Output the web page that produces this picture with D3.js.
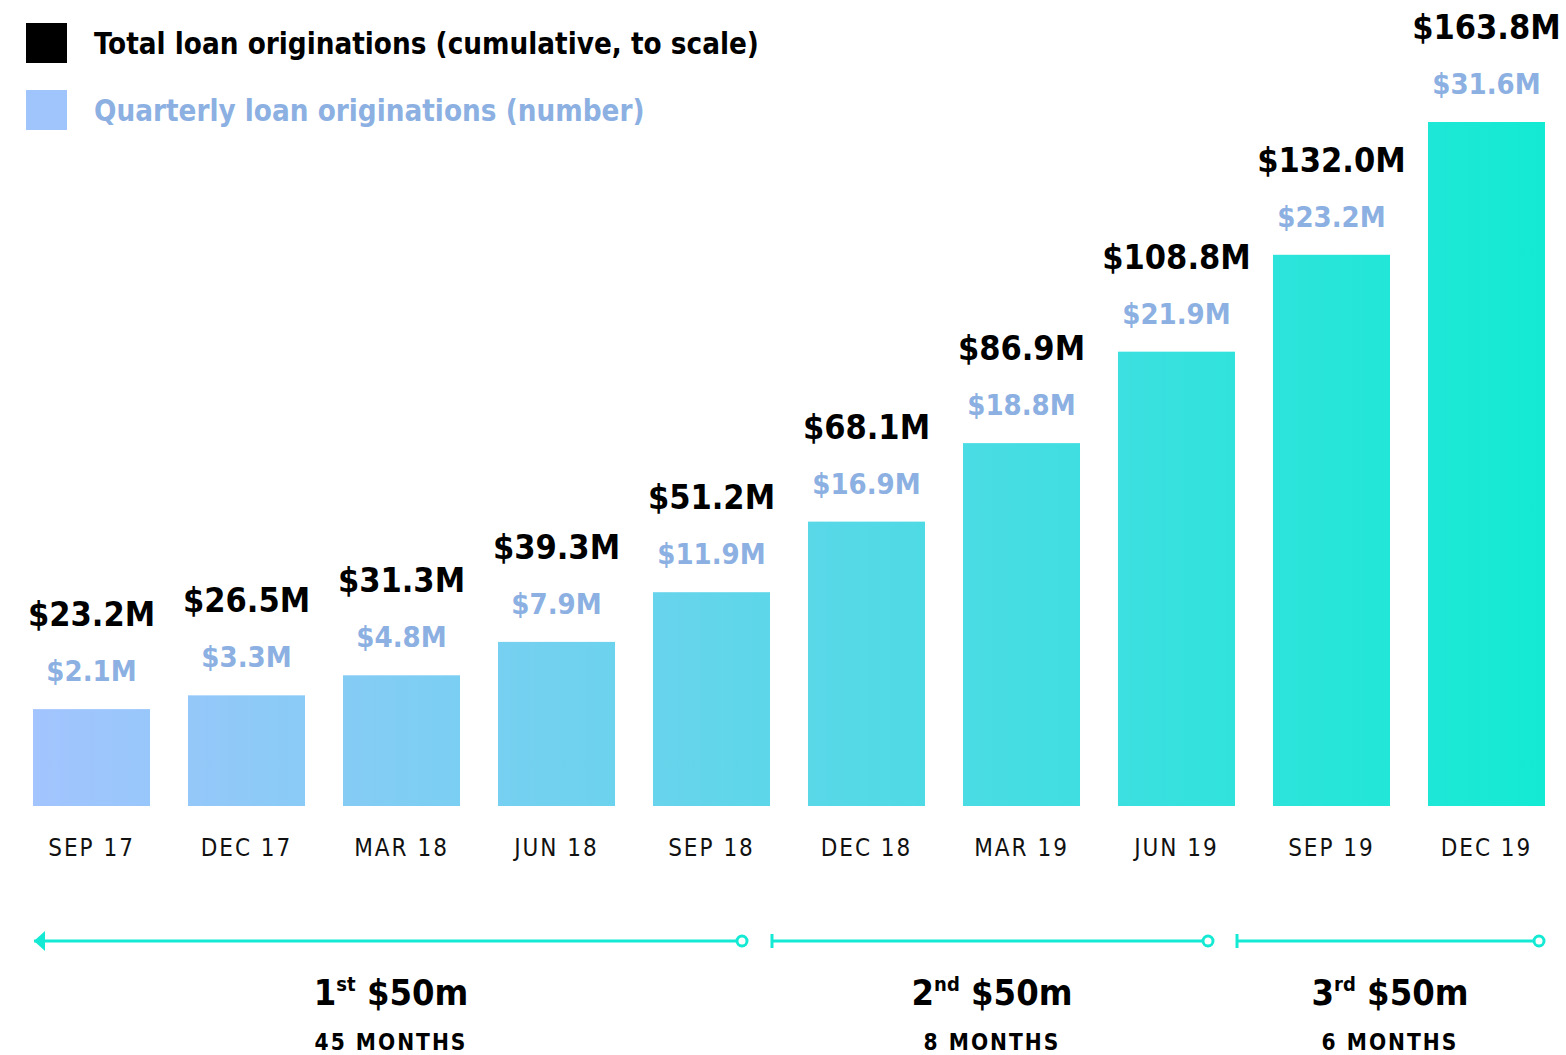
<!DOCTYPE html>
<html><head><meta charset="utf-8">
<script src="https://cdn.jsdelivr.net/npm/d3@7"></script>
<style>
html,body{margin:0;padding:0;background:#fff;}
text{font-family:"DejaVu Sans Condensed","DejaVu Sans",sans-serif;}
</style></head>
<body><svg id="c" width="1566" height="1055"></svg>
<script>
const categories = ["SEP 17","DEC 17","MAR 18","JUN 18","SEP 18","DEC 18","MAR 19","JUN 19","SEP 19","DEC 19"];
const cumulative = [23.2,26.5,31.3,39.3,51.2,68.1,86.9,108.8,132.0,163.8];
const quarterly = [2.1,3.3,4.8,7.9,11.9,16.9,18.8,21.9,23.2,31.6];
const milestones = [
  {ord:"1", sup:"st", label:"$50m", months:"45 MONTHS"},
  {ord:"2", sup:"nd", label:"$50m", months:"8 MONTHS"},
  {ord:"3", sup:"rd", label:"$50m", months:"6 MONTHS"}
];
const legendItems = ["Total loan originations (cumulative, to scale)","Quarterly loan originations (number)"];

const svg = d3.select("#c");
const teal = "#14ead3", blueLbl = "#8cb0e2";

const x = d3.scaleBand().domain(categories).range([33, 1545]).paddingInner(0.245).paddingOuter(0);
const y = d3.scaleLinear().domain([0, 163.8]).range([806, 122]);

const defs = svg.append("defs");
const g = defs.append("linearGradient").attr("id","grad").attr("gradientUnits","userSpaceOnUse")
  .attr("x1", x(categories[0])).attr("x2", x(categories[9]) + x.bandwidth()).attr("y1",0).attr("y2",0);
g.append("stop").attr("offset","0").attr("stop-color","#a3c4fe");
g.append("stop").attr("offset","1").attr("stop-color","#13ead3");

// Legend
const leg = svg.append("g");
legendItems.forEach((t,i)=>{
  leg.append("rect").attr("x",26).attr("y",23+i*67).attr("width",41).attr("height",40)
    .attr("fill", i===0 ? "#000" : "#a0c5fd");
  leg.append("text").attr("x",94).attr("y",54+i*67).attr("font-size",29.3).attr("font-weight","bold")
    .attr("fill", i===0 ? "#000" : blueLbl).text(t);
});

// Bars
svg.append("g").selectAll("rect").data(categories).join("rect")
  .attr("x", d=>x(d)).attr("width", x.bandwidth())
  .attr("y", (d,i)=>y(cumulative[i])).attr("height",(d,i)=>y(0)-y(cumulative[i]))
  .attr("fill","url(#grad)");

// Labels
const cx = d => x(d) + x.bandwidth()/2;
svg.append("g").selectAll("text").data(categories).join("text")
  .attr("x", cx).attr("y",(d,i)=>y(cumulative[i]) - 83)
  .attr("text-anchor","middle").attr("font-size",34).attr("font-weight","bold").attr("fill","#000")
  .text((d,i)=>"$"+cumulative[i].toFixed(1)+"M");
svg.append("g").selectAll("text").data(categories).join("text")
  .attr("x", cx).attr("y",(d,i)=>y(cumulative[i]) - 28)
  .attr("text-anchor","middle").attr("font-size",29).attr("font-weight","bold").attr("fill",blueLbl)
  .text((d,i)=>"$"+quarterly[i].toFixed(1)+"M");

// Axis
const ax = svg.append("g").attr("transform","translate(0,806)")
  .call(d3.axisBottom(x).tickSize(0).tickPadding(33));
ax.select(".domain").remove();
ax.selectAll("text").attr("font-size",24).attr("fill","#111").attr("letter-spacing","2px");

// Timeline
const ly = 941;
const segs = [[34,742],[772,1208],[1237,1539]];
const tl = svg.append("g");
segs.forEach((s,i)=>{
  tl.append("line").attr("x1",s[0]).attr("x2",s[1]-5).attr("y1",ly).attr("y2",ly)
    .attr("stroke",teal).attr("stroke-width",3);
  if(i===0){
    tl.append("path").attr("d",`M${s[0]},${ly} L${s[0]+11},${ly-10} L${s[0]+11},${ly+10} Z`).attr("fill",teal);
  } else {
    tl.append("line").attr("x1",s[0]).attr("x2",s[0]).attr("y1",ly-7).attr("y2",ly+7)
      .attr("stroke",teal).attr("stroke-width",3);
  }
  tl.append("circle").attr("cx",s[1]).attr("cy",ly).attr("r",5).attr("fill","#fff")
    .attr("stroke",teal).attr("stroke-width",3);
});
const centers = [391, 992, 1390];
milestones.forEach((m,i)=>{
  const t = tl.append("text").attr("x",centers[i]).attr("y",1005).attr("text-anchor","middle")
    .attr("font-size",36).attr("font-weight","bold").attr("fill","#000");
  t.append("tspan").text(m.ord);
  t.append("tspan").attr("font-size",20).attr("dy",-14).text(m.sup);
  t.append("tspan").attr("dy",14).text(" "+m.label);
  tl.append("text").attr("x",centers[i]).attr("y",1050).attr("text-anchor","middle")
    .attr("font-size",22.5).attr("font-weight","bold").attr("letter-spacing","2px").attr("fill","#000").text(m.months);
});
</script></body></html>
